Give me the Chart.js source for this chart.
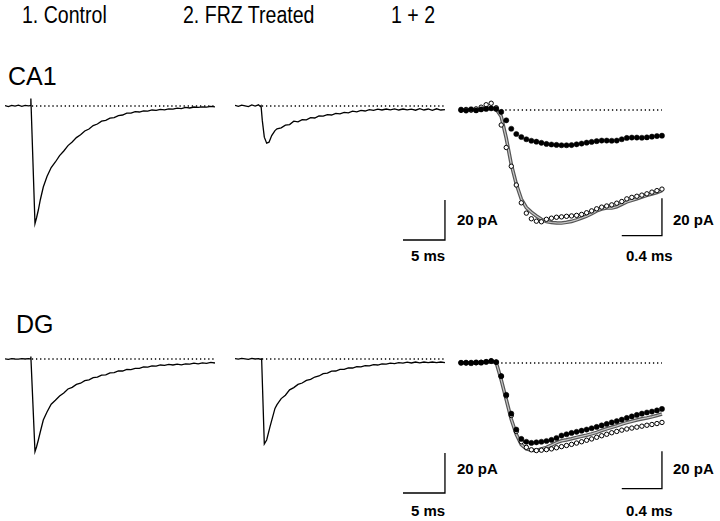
<!DOCTYPE html>
<html>
<head>
<meta charset="utf-8">
<script src="https://cdn.jsdelivr.net/npm/chart.js@4.4.1/dist/chart.umd.min.js"></script>
<style>
  body { margin: 0; background: #fff; }
  #fig { position: relative; width: 720px; height: 521px; background: #fff; overflow: hidden; }
  #fig canvas { position: absolute; }
  .lbl { position: absolute; white-space: nowrap; line-height: 1; color: #000; font-family: "Liberation Sans", Arial, sans-serif; }
  .col { font-size: 23px; transform: scaleX(0.85); transform-origin: left top; }
  .row { font-size: 25px; }
  .bar { font-size: 15px; font-weight: bold; }
</style>
</head>
<body>
<div id="fig">
  <div class="lbl col" style="left:22px;top:4px">1. Control</div>
  <div class="lbl col" style="left:183px;top:4px">2. FRZ Treated</div>
  <div class="lbl col" style="left:391px;top:4px">1 + 2</div>
  <div class="lbl row" style="left:8px;top:64px">CA1</div>
  <div class="lbl row" style="left:16px;top:312px">DG</div>

  <div class="lbl bar" style="left:457px;top:212px">20 pA</div>
  <div class="lbl bar" style="left:673px;top:212px">20 pA</div>
  <div class="lbl bar" style="left:411px;top:248px">5 ms</div>
  <div class="lbl bar" style="left:626px;top:248px">0.4 ms</div>

  <div class="lbl bar" style="left:457px;top:461px">20 pA</div>
  <div class="lbl bar" style="left:673px;top:461px">20 pA</div>
  <div class="lbl bar" style="left:411px;top:503px">5 ms</div>
  <div class="lbl bar" style="left:626px;top:503px">0.4 ms</div>

  <canvas id="ca1Ctl" width="215" height="160" style="left:5px;top:90px"></canvas>
  <canvas id="ca1Frz" width="215" height="160" style="left:235px;top:90px"></canvas>
  <canvas id="ca1Sum" width="231" height="160" style="left:446px;top:90px"></canvas>
  <canvas id="dgCtl" width="215" height="160" style="left:5px;top:343px"></canvas>
  <canvas id="dgFrz" width="215" height="160" style="left:235px;top:343px"></canvas>
  <canvas id="dgSum" width="231" height="160" style="left:446px;top:343px"></canvas>
</div>
<script>
// ===== DATA: slow traces (ms, pA) =====
const ca1CtlTime = [0, 0.4, 0.8, 1.2, 1.6, 2.0, 2.4, 2.8, 3.0, 3.08, 3.57, 3.75, 3.97, 4.2, 4.56,
  5.0, 5.5, 6.0, 6.5, 7.0, 7.5, 8.0, 8.5, 9.0, 9.5, 10.0, 10.5, 11.0, 11.5, 12.0, 12.5, 13.0, 13.5,
  14.0, 14.5, 15.0, 15.5, 16.0, 16.5, 17.0, 17.5, 18.0, 18.5, 19.0, 19.5, 20.0, 20.5, 21.0, 21.5,
  22.0, 22.5, 23.0, 23.5, 24.0, 24.5, 25.0]
const ca1Ctl = [0.2, -0.3, 0.3, -0.1, 0.4, -0.2, 0.3, 0.1, 0.2, 3.7, -58.8, -56, -52, -47, -40.5,
  -35.3, -30.8, -28.0, -24.8, -22.5, -19.8, -18.0, -15.8, -14.4, -12.5, -11.5, -9.8, -9.0, -7.6, -7.2,
  -6.1, -5.8, -4.8, -4.5, -3.6, -3.6, -2.8, -3.0, -2.4, -2.6, -2.0, -2.2, -1.7, -1.9, -1.4, -1.6,
  -1.1, -1.3, -0.7, -1.0, -0.5, -0.7, -0.4, -0.6, -0.2, -0.4]

const ca1FrzTime = [0, 0.4, 0.8, 1.2, 1.6, 2.0, 2.4, 2.8, 3.0, 3.1, 3.25, 3.49, 3.77, 4.05, 4.37, 4.76,
  5.0, 5.5, 6.0, 6.5, 7.0, 7.5, 8.0, 8.5, 9.0, 9.5, 10.0, 10.5, 11.0, 11.5, 12.0, 12.5, 13.0, 13.5,
  14.0, 14.5, 15.0, 15.5, 16.0, 16.5, 17.0, 17.5, 18.0, 18.5, 19.0, 19.5, 20.0, 20.5, 21.0, 21.5,
  22.0, 22.5, 23.0, 23.5, 24.0, 24.5, 25.0]
const ca1Frz = [0.3, -0.2, 0.4, 0.1, -0.3, 0.5, 0.0, 0.6, -0.2, 0.2, -7.2, -15.6, -18.6, -18.1, -14.8, -12.3,
  -11.4, -10.9, -9.6, -9.3, -7.6, -7.9, -6.8, -6.9, -5.8, -6.0, -5.0, -5.1, -4.3, -4.5, -3.7, -3.9,
  -3.2, -3.4, -2.6, -2.9, -2.2, -2.5, -1.8, -2.2, -1.6, -2.0, -1.5, -1.9, -1.4, -2.0, -1.5, -1.9,
  -1.6, -2.1, -1.3, -2.0, -1.5, -2.2, -1.4, -2.0, -1.8]

const dgCtlTime = [0, 0.4, 0.8, 1.2, 1.6, 2.0, 2.4, 2.8, 3.0, 3.08, 3.57, 3.75, 3.97, 4.2, 4.56,
  5.0, 5.5, 6.0, 6.5, 7.0, 7.5, 8.0, 8.5, 9.0, 9.5, 10.0, 10.5, 11.0, 11.5, 12.0, 12.5, 13.0, 13.5,
  14.0, 14.5, 15.0, 15.5, 16.0, 16.5, 17.0, 17.5, 18.0, 18.5, 19.0, 19.5, 20.0, 20.5, 21.0, 21.5,
  22.0, 22.5, 23.0, 23.5, 24.0, 24.5, 25.0]
const dgCtl = [0.1, -0.2, 0.2, 0, -0.1, 0.2, 0.0, 0.2, 0.1, 1.2, -46.3, -44, -40.5, -36.5, -30.5,
  -26.5, -22.6, -20.6, -18.5, -17.0, -15.0, -14.2, -12.7, -12.1, -10.8, -10.4, -9.3, -9.1, -8.1, -7.9,
  -6.9, -6.8, -6.0, -6.0, -5.2, -5.3, -4.7, -4.7, -4.0, -4.1, -3.5, -3.6, -3.0, -3.2, -2.7, -3.0,
  -2.6, -2.9, -2.4, -2.6, -2.1, -2.4, -1.9, -2.2, -1.7, -2.0]

const dgFrzTime = [0, 0.4, 0.8, 1.2, 1.6, 2.0, 2.4, 2.8, 3.0, 3.17, 3.49, 3.77, 4.17, 4.76,
  5.0, 5.5, 6.0, 6.5, 7.0, 7.5, 8.0, 8.5, 9.0, 9.5, 10.0, 10.5, 11.0, 11.5, 12.0, 12.5, 13.0, 13.5,
  14.0, 14.5, 15.0, 15.5, 16.0, 16.5, 17.0, 17.5, 18.0, 18.5, 19.0, 19.5, 20.0, 20.5, 21.0, 21.5,
  22.0, 22.5, 23.0, 23.5, 24.0, 24.5, 25.0]
const dgFrz = [0.2, -0.1, 0.3, 0.1, -0.2, 0.3, 0.0, 0.2, -0.1, 0.1, -42.5, -40.5, -33.8, -24.7,
  -22.8, -19.8, -18.1, -15.4, -14.3, -12.7, -12.0, -10.7, -10.2, -9.0, -8.5, -7.3, -7.1, -6.1, -6.0,
  -5.2, -5.2, -4.4, -4.5, -3.8, -3.9, -3.3, -3.4, -2.8, -3.0, -2.4, -2.6, -2.1, -2.3, -1.8, -2.1,
  -1.6, -2.0, -1.5, -1.9, -1.5, -1.8, -1.5, -1.8, -1.5, -1.8]

// ===== DATA: overlay "1 + 2" (ms, pA) =====
const sumTime = [0, 0.05, 0.1, 0.15, 0.2, 0.25, 0.3, 0.35, 0.4, 0.45, 0.5, 0.55, 0.6, 0.65, 0.7, 0.75,
  0.8, 0.85, 0.9, 0.95, 1.0, 1.05, 1.1, 1.15, 1.2, 1.25, 1.3, 1.35, 1.4, 1.45, 1.5, 1.55, 1.6, 1.65,
  1.7, 1.75, 1.8, 1.85, 1.9, 1.95, 2.0]
const ca1Filled = [0.2, -0.3, 0.4, -0.2, 0.3, 0.6, 0.9, 0.6, -1, -5.5, -10, -12.8, -14.4, -15.6, -16.4,
  -16.9, -17.5, -18.1, -18.4, -18.6, -18.8, -18.8, -18.7, -18.3, -17.9, -17.4, -17.0, -16.6, -16.3,
  -16.3, -16.4, -16.3, -15.6, -14.9, -14.7, -14.7, -14.8, -14.6, -14.2, -13.9, -13.7]
const ca1Open = [-0.2, 0.3, -0.1, 0.6, 1.5, 2.8, 3.6, 1.2, -8, -20, -30, -40, -49.5, -55, -58, -59.3,
  -59.6, -58.3, -57.7, -57.2, -57, -56.7, -56.5, -56.2, -55.7, -54.8, -53.8, -52.7, -51.8, -51.2,
  -50.6, -49.7, -48.8, -47.4, -46.6, -46, -45.4, -44.7, -43.8, -43, -42.2]
const ca1Gray = [0.1, -0.2, 0.3, 0, 0.4, 0.8, 1.0, 0.4, -3.5, -15, -29, -39.5, -47.5, -52, -54.5, -56.5,
  -58.3, -59.5, -60, -60.2, -60.3, -59.9, -59.4, -58.6, -57.6, -56.6, -55.3, -53.8, -52.8, -52.3,
  -52.3, -51.6, -50.3, -49, -48.2, -47.3, -46.4, -45.5, -44.8, -44, -43]
const dgFilled = [0.1, 0.2, -0.1, 0.3, 0.2, 0.6, 1.0, 0.5, -7, -17, -27, -35.5, -40.5, -42, -42.6, -42.3,
  -42, -41.6, -41, -40, -38.7, -38, -37.3, -36.7, -36.1, -35.5, -34.8, -34.1, -33.3, -32.5, -31.7,
  -31, -30.2, -29.3, -28.5, -27.7, -27, -26.4, -25.9, -25.3, -24.5]
const dgOpen = [0.2, 0, 0.3, 0.1, 0.4, 0.7, 1.2, 0.4, -7, -17.5, -28, -36.5, -42, -45, -46.3, -46.7,
  -46.5, -46.2, -45.8, -45.2, -44.6, -44, -43.4, -42.7, -42, -41.2, -40.5, -39.6, -38.8, -38, -37.2,
  -36.5, -35.8, -35.2, -34.7, -34.2, -33.7, -33.2, -32.8, -32.3, -31.7]
const dgGray = [0, 0.1, 0.1, 0.2, 0.3, 0.5, 0.8, 0.3, -9, -19.5, -30, -38, -43.5, -45.8, -46.5, -46.6,
  -45.8, -45, -43.8, -42.5, -41.5, -41, -40.4, -39.7, -39.1, -38.5, -37.8, -37, -36, -35.1, -34.3,
  -33.5, -32.6, -31.8, -31.1, -30.4, -29.8, -29.3, -28.7, -28, -27.2]

// zero reference (dotted) spans, ms
const zeroSlow = [3.2, 25]
const zeroSum = [0.4, 2.0]

// calibration bars: 20 pA and 5 ms / 0.4 ms
const barSlowMs = [20, 25]
const barSumMs = [1.6, 2.0]
const barPa = [-67, -47]

// ===== HELPERS =====
function pts(xs, ys) {
  return xs.map((x, i) => ({ x: x, y: ys[i] }))
}

function traceSet(xs, ys) {
  return { data: pts(xs, ys), showLine: true, borderColor: '#000', borderWidth: 1.3, pointRadius: 0, tension: 0 }
}

function zeroSet(span) {
  return { data: pts(span, [0, 0]), showLine: true, borderColor: '#000', borderWidth: 1.4, borderDash: [1.3, 2.8], pointRadius: 0 }
}

function barSet(ms) {
  const x1 = ms[1]
  return {
    data: [{ x: ms[0], y: barPa[0] }, { x: x1, y: barPa[0] }, { x: x1, y: barPa[1] }],
    showLine: true, borderColor: '#000', borderWidth: 1.3, pointRadius: 0
  }
}

function renderPanel(canvasId, datasets, xMin, xMax) {
  const ctx = document.getElementById(canvasId).getContext('2d')
  return new Chart(ctx, {
    type: 'scatter',
    data: { datasets: datasets },
    options: {
      responsive: false,
      animation: false,
      layout: { padding: 0 },
      plugins: { legend: { display: false }, tooltip: { enabled: false } },
      scales: {
        x: { type: 'linear', display: false, min: xMin, max: xMax },
        y: { type: 'linear', display: false, min: -72, max: 8 }
      }
    }
  })
}

function sumSets(filled, open, gray) {
  // first dataset is drawn on top
  return [
    { data: pts(sumTime, filled), pointRadius: 2.6, pointBackgroundColor: '#000', pointBorderColor: '#000', pointBorderWidth: 0.5 },
    { data: pts(sumTime, open), pointRadius: 2.2, pointBackgroundColor: '#fff', pointBorderColor: '#000', pointBorderWidth: 1 },
    { data: pts(sumTime, gray), showLine: true, borderColor: '#c8c8c8', borderWidth: 1.2, pointRadius: 0 },
    { data: pts(sumTime, gray), showLine: true, borderColor: '#555', borderWidth: 3.6, pointRadius: 0 },
    zeroSet(zeroSum),
    barSet(barSumMs)
  ]
}

// ===== RENDER =====
renderPanel('ca1Ctl', [traceSet(ca1CtlTime, ca1Ctl), zeroSet(zeroSlow)], 0, 25.6)
renderPanel('ca1Frz', [traceSet(ca1FrzTime, ca1Frz), zeroSet(zeroSlow), barSet(barSlowMs)], 0, 25.6)
renderPanel('ca1Sum', sumSets(ca1Filled, ca1Open, ca1Gray), -0.1, 2.1)
renderPanel('dgCtl', [traceSet(dgCtlTime, dgCtl), zeroSet(zeroSlow)], 0, 25.6)
renderPanel('dgFrz', [traceSet(dgFrzTime, dgFrz), zeroSet(zeroSlow), barSet(barSlowMs)], 0, 25.6)
renderPanel('dgSum', sumSets(dgFilled, dgOpen, dgGray), -0.1, 2.1)
</script>
</body>
</html>
